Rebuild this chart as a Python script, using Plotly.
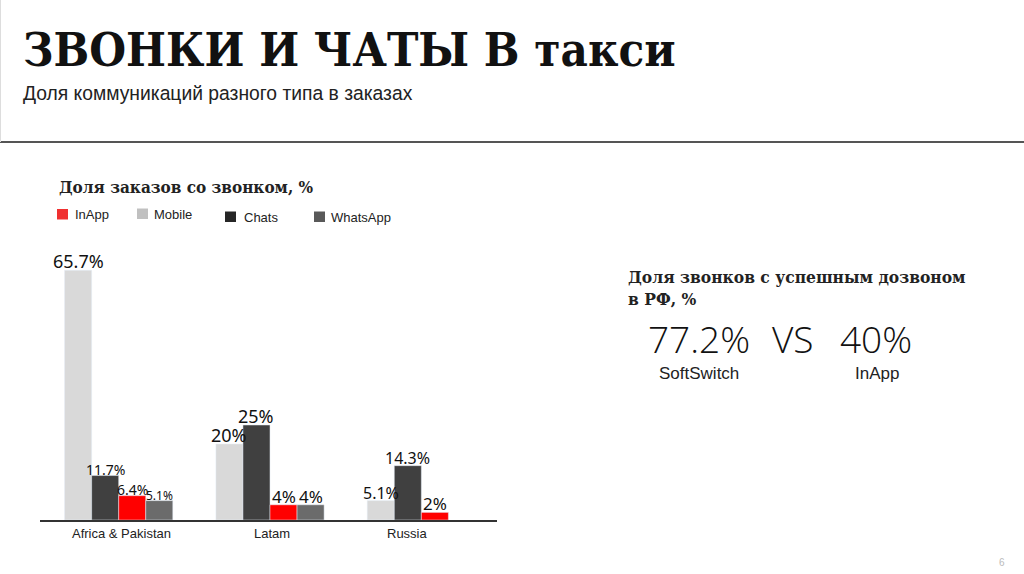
import plotly.graph_objects as go

W, H = 1024, 574

# data
categories = ["Africa & Pakistan", "Latam", "Russia"]
mobile = [65.7, 20, 5.1]
chats = [11.7, 25, 14.3]
inapp = [6.4, 4, 2]
whatsapp = [5.1, 4, None]

# label font sizes differ per bar on the original slide
mobile_sizes = [18, 18, 16]
chats_sizes = [14, 18, 16]
inapp_sizes = [14, 17, 17]
whatsapp_sizes = [12, 17, 17]

legend_names = ["InApp", "Mobile", "Chats", "WhatsApp"]

kpi_values = ["77.2%", "40%"]
kpi_names = ["SoftSwitch", "InApp"]

BARGAP = 0.285


def px(x):
    return x / W


def py(y):
    return 1 - y / H


def fmt(v):
    return f"{v:g}%"


colors = {"Mobile": "#d9d9d9", "Chats": "#404040", "InApp": "#ff0000", "WhatsApp": "#6b6b6b"}
# the legend swatches on the slide are a shade different from the bars
legend_colors = {"Mobile": "#c0c0c0", "Chats": "#262626", "InApp": "#f03030", "WhatsApp": "#595959"}
series = [
    ("Mobile", mobile, mobile_sizes),
    ("Chats", chats, chats_sizes),
    ("InApp", inapp, inapp_sizes),
    ("WhatsApp", whatsapp, whatsapp_sizes),
]

fig = go.Figure()
annotations = []

bar_w = (1 - BARGAP) / len(series)
for k, (name, vals, sizes) in enumerate(series):
    fig.add_trace(go.Bar(x=categories, y=vals, name=name,
                         marker_color=colors[name], showlegend=False))
    # value labels hug the bar tops like on the slide
    offset = (k - (len(series) - 1) / 2) * bar_w
    for i, (v, s) in enumerate(zip(vals, sizes)):
        if v is None:
            continue
        annotations.append(dict(
            x=i + offset, y=v, xref="x", yref="y", xanchor="center", yanchor="bottom",
            yshift=-5, text=fmt(v), showarrow=False,
            font=dict(family="Noto Sans", size=s, color="#111"),
        ))

# category labels sit slightly off the group centres on the slide
label_shift = [3, 2, -14]
for cat, dx in zip(categories, label_shift):
    annotations.append(dict(
        x=cat, y=0, xref="x", yref="y", yanchor="top", yshift=-4, xshift=dx,
        text=cat, showarrow=False,
        font=dict(family="Liberation Sans", size=13, color="#222"),
    ))

texts = [
    dict(x=px(21), y=py(50), text="<b>ЗВОНКИ И ЧАТЫ В такси</b>",
         font=dict(family="DejaVu Serif Condensed, DejaVu Serif", size=47, color="#111")),
    dict(x=px(21), y=py(93), text="Доля коммуникаций разного типа в заказах",
         font=dict(family="Liberation Sans Narrow, Liberation Sans", size=19.3, color="#222")),
    dict(x=px(57), y=py(187), text="<b>Доля заказов со звонком, %</b>",
         font=dict(family="DejaVu Serif Condensed, DejaVu Serif", size=17, color="#222")),
    dict(x=px(626), y=py(288), text="<b>Доля звонков с успешным дозвоном<br>в РФ, %</b>",
         font=dict(family="DejaVu Serif Condensed, DejaVu Serif", size=17.3, color="#222"), align="left"),
    dict(x=px(646), y=py(338), text=kpi_values[0],
         font=dict(family="Open Sans", size=37, color="#111", weight=300)),
    dict(x=px(770), y=py(338), text="VS",
         font=dict(family="Open Sans", size=37, color="#111", weight=300)),
    dict(x=px(838), y=py(338), text=kpi_values[1],
         font=dict(family="Open Sans", size=37, color="#111", weight=300)),
    dict(x=px(699), y=py(373), text=kpi_names[0], xanchor="center",
         font=dict(family="Liberation Sans", size=17, color="#222")),
    dict(x=px(877), y=py(373), text=kpi_names[1], xanchor="center",
         font=dict(family="Liberation Sans", size=17, color="#222")),
    dict(x=px(1002), y=py(562), text="6", xanchor="center",
         font=dict(family="Liberation Sans", size=10, color="#bbb")),
]

shapes = [
    dict(type="line", xref="paper", yref="paper", x0=0, x1=1,
         y0=py(142), y1=py(142), line=dict(color="#555", width=2)),
    dict(type="line", xref="paper", yref="paper", x0=px(0.5), x1=px(0.5),
         y0=py(0), y1=py(142), line=dict(color="#ddd", width=1)),
]

# hand-placed legend (the slide spaces its entries unevenly)
swatch_x = [57, 137, 225, 314]
text_x = [73, 152, 242, 329]
legend_y = [214.5, 214, 217, 217]
for name, sx, tx, ly in zip(legend_names, swatch_x, text_x, legend_y):
    shapes.append(dict(type="rect", xref="paper", yref="paper",
                       x0=px(sx), x1=px(sx + 11), y0=py(ly + 5), y1=py(ly - 5.5),
                       fillcolor=legend_colors[name], line=dict(width=0)))
    texts.append(dict(x=px(tx), y=py(ly), text=name,
                      font=dict(family="Liberation Sans", size=13, color="#222")))

for a in texts:
    a.setdefault("xanchor", "left")
    a.update(xref="paper", yref="paper", yanchor="middle", showarrow=False)
annotations += texts

fig.update_layout(
    width=W, height=H,
    margin=dict(l=0, r=0, t=0, b=0),
    paper_bgcolor="white", plot_bgcolor="white",
    barmode="group", bargap=BARGAP, bargroupgap=0,
    annotations=annotations,
    shapes=shapes,
    xaxis=dict(domain=[px(40), px(497)], range=[-0.52, 2.5],
               showline=True, linecolor="#333", linewidth=1.5,
               ticks="", showticklabels=False),
    yaxis=dict(domain=[py(520), py(254)], range=[0, 70], visible=False),
)

fig.write_html("out.html", config={"displayModeBar": False},
               post_script="document.body.style.margin = '0';")
